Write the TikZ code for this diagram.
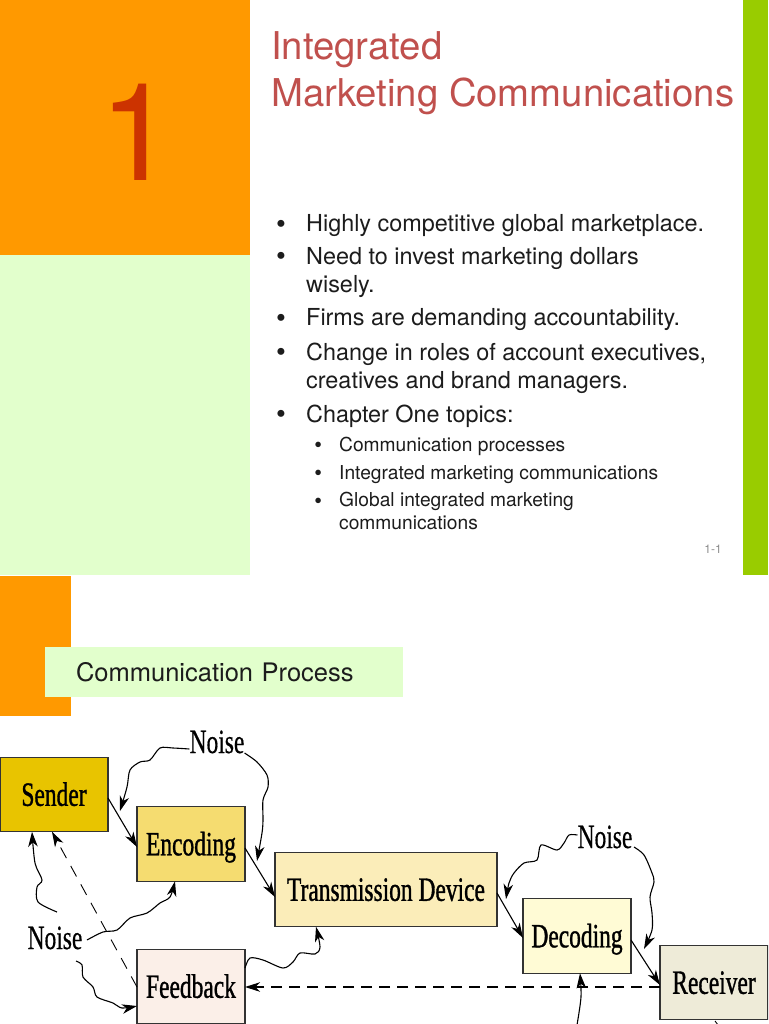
\documentclass[tikz,border=0pt]{standalone}
\usepackage{fontspec}
\setmainfont{TeX Gyre Heros}
\newfontfamily\figfont[FakeStretch=0.69,FakeBold=1]{Liberation Serif}
\newfontfamily\noisefont[FakeStretch=0.69,FakeBold=0.4]{Liberation Serif}
\usetikzlibrary{positioning, arrows.meta}
\definecolor{slideorange}{HTML}{FF9900}
\definecolor{slidepale}{HTML}{E2FFCC}
\definecolor{slidegreen}{HTML}{99CC00}
\definecolor{chapterred}{HTML}{CC3300}
\definecolor{titlered}{HTML}{C0504D}
\definecolor{bodytext}{HTML}{1C1C1C}
\definecolor{senderfill}{HTML}{E8C400}
\definecolor{encodingfill}{HTML}{F5DC70}
\definecolor{transmitfill}{HTML}{FBEDB9}
\definecolor{decodingfill}{HTML}{FFFBD5}
\definecolor{receiverfill}{HTML}{EEEBD8}
\definecolor{feedbackfill}{HTML}{FBEFE8}
\tikzset{
  >={Stealth[length=15pt, width=9.5pt, inset=4.5pt]},
  node distance=30pt,
  box/.style={draw=black!80, line width=1.1pt, outer sep=0pt, inner sep=0pt,
    minimum width=108pt, minimum height=74.5pt, text height=22.6pt, text depth=0pt,
    font=\figfont\fontsize{34}{34}\selectfont},
  noiselabel/.style={anchor=base, inner sep=0pt, font=\noisefont\fontsize{34}{34}\selectfont},
  wire/.style={->, line width=1.1pt},
  noisewire/.style={->, line width=1.1pt},
  dashwire/.style={->, line width=0.9pt, dash pattern=on 12pt off 9pt},
  topic/.style={anchor=base west, align=left, inner sep=0pt, text=bodytext,
    font=\fontsize{23.4}{28.7}\selectfont},
  subtopic/.style={anchor=base west, align=left, inner sep=0pt, text=bodytext,
    font=\fontsize{19.2}{22.7}\selectfont},
  dot/.style={anchor=base, inner sep=0pt, yshift=-1.4pt, text=bodytext, font=\fontsize{28}{28}\selectfont},
  subdot/.style={anchor=base, inner sep=0pt, yshift=-1.4pt, text=bodytext, font=\fontsize{22}{22}\selectfont},
}
\begin{document}
\begin{tikzpicture}[x=1pt, y=-1pt]
  \clip (0,0) rectangle (768,1024);
  % first slide
  \fill[slideorange] (0,0) rectangle (250,255);
  \fill[slidepale] (0,255) rectangle (250,575);
  \fill[slidegreen] (743,0) rectangle (768,575);
  \node[inner sep=0pt, text=chapterred, font=\fontsize{136}{136}\selectfont] (chapter) at (137,132) {1};
  \node[anchor=base west, align=left, inner sep=0pt, text=titlered, font=\fontsize{38.3}{46.7}\selectfont]
    (title) at (271,106.7) {Integrated\\Marketing Communications};
  \node[topic] (t1) at (306,231.7) {Highly competitive global marketplace.};
  \node[topic] (t2) at (306,292.7) {Need to invest marketing dollars\\wisely.};
  \node[topic] (t3) at (306,325.7) {Firms are demanding accountability.};
  \node[topic] (t4) at (306,388.7) {Change in roles of account executives,\\creatives and brand managers.};
  \node[topic] (t5) at (306,422.3) {Chapter One topics:};
  \node[subtopic] (s1) at (339,451) {Communication processes};
  \node[subtopic] (s2) at (339,479) {Integrated marketing communications};
  \node[subtopic] (s3) at (339,529.3) {Global integrated marketing\\communications};
  \foreach \i/\y in {1/231.7, 2/264, 3/325.7, 4/360, 5/422.3}
    \node[dot] (dot\i) at (281,\y) {\textbullet};
  \foreach \i/\y in {1/451, 2/479, 3/506.7}
    \node[subdot] (subdot\i) at (318.3,\y) {\textbullet};
  \node[inner sep=0pt, text=black!45, font=\fontsize{12}{12}\selectfont] (pagenum) at (713,549) {1-1};

  % second slide
  \fill[slideorange] (0,576) rectangle (71,716);
  \node[fill=slidepale, inner xsep=31pt, inner ysep=0pt, minimum height=50pt, text width=296pt,
    align=left, text=bodytext, font=\fontsize{25.5}{25.5}\selectfont] (banner) at (224,672) {Communication Process};

  \node[box, fill=senderfill] (sender) at (54,794.5) {Sender};
  \node[box, fill=encodingfill, below right=-25pt and 29pt of sender] (encoding) {Encoding};
  \node[box, fill=transmitfill, minimum width=222pt, below right=-29pt and 30pt of encoding] (transmission) {Transmission Device};
  \node[box, fill=decodingfill, below right=-28pt and 26pt of transmission] (decoding) {Decoding};
  \node[box, fill=receiverfill, below right=-28pt and 29pt of decoding] (receiver) {Receiver};
  \node[box, fill=feedbackfill, below=68pt of encoding] (feedback) {Feedback};

  \node[noiselabel] (noiseA) at (217,753) {Noise};
  \node[noiselabel] (noiseB) at (55,949) {Noise};
  \node[noiselabel] (noiseC) at (605,848) {Noise};

  % free ends of the wavy wires
  \coordinate (aimA) at (120,811);
  \coordinate (aimB) at (257,861);
  \coordinate (aimC) at (506,899);
  \coordinate (aimD) at (644,949);
  \coordinate (noiseBup) at (57,912);
  \coordinate (noiseBright) at (87,940);
  \coordinate (noiseBlow) at (76,961);
  \coordinate (noiseCright) at (634,847);
  \coordinate (bottomwire) at (577,1025);
  \coordinate (bottomstub) at (715,1021);
  \coordinate (bottomend) at (718,1025);

  \draw[wire] (sender.east |- 0,798) -- (encoding.west |- 0,847);
  \draw[wire] (encoding.east |- 0,848) -- (transmission.west |- 0,897);
  \draw[wire] (transmission.east |- 0,893) -- (decoding.west |- 0,938);
  \draw[wire] (decoding.east |- 0,940) -- (receiver.west |- 0,985);
  \draw[dashwire, line width=1.3pt, dash pattern=on 11pt off 7pt] (receiver.west |- 0,987) -- (feedback.east |- 0,987);
  \draw[dashwire] (feedback.west |- 0,987) -- (sender.south -| 52,0);

  \draw[noisewire] plot[smooth] coordinates {(noiseA.west |- 0,749) (173,748) (160,748) (150,760) (140,762) (130,770) (127,787) (aimA)};
  \draw[noisewire] plot[smooth] coordinates {(noiseA.east |- 0,753) (257,762) (267,775) (268,787) (263,800) (263,820) (262,833) (aimB)};
  \draw[noisewire] plot[smooth] coordinates {(noiseBup) (38,902) (37,887) (42,880) (35,863) (sender.south -| 32,0)};
  \draw[noisewire] plot[smooth] coordinates {(noiseBright) (103,932) (117,930) (130,918) (147,913) (160,903) (170,897) (encoding.south -| 175,0)};
  \draw[noisewire] plot[smooth] coordinates {(noiseBlow) (82,965) (83,977) (93,987) (97,997) (113,1003) (122,1008) (feedback.west |- 0,1006)};
  \draw[noisewire] plot[smooth] coordinates {(feedback.east |- 0,968) (250,958) (263,960) (283,968) (293,962) (300,953) (315,954) (320,947) (transmission.south -| 316,0)};
  \draw[noisewire] plot[smooth] coordinates {(noiseC.west |- 0,835) (569,835) (564,843) (557,850) (541,845) (537,860) (524,863) (514,873) (509,883) (aimC)};
  \draw[noisewire] plot[smooth] coordinates {(noiseCright) (644,855) (652,873) (654,882) (650,897) (652,913) (652,930) (aimD)};
  \draw[noisewire] plot[smooth] coordinates {(bottomwire) (581,997) (decoding.south -| 580,0)};
  \draw[line width=0.9pt] (bottomstub) -- (bottomend);
\end{tikzpicture}
\end{document}
